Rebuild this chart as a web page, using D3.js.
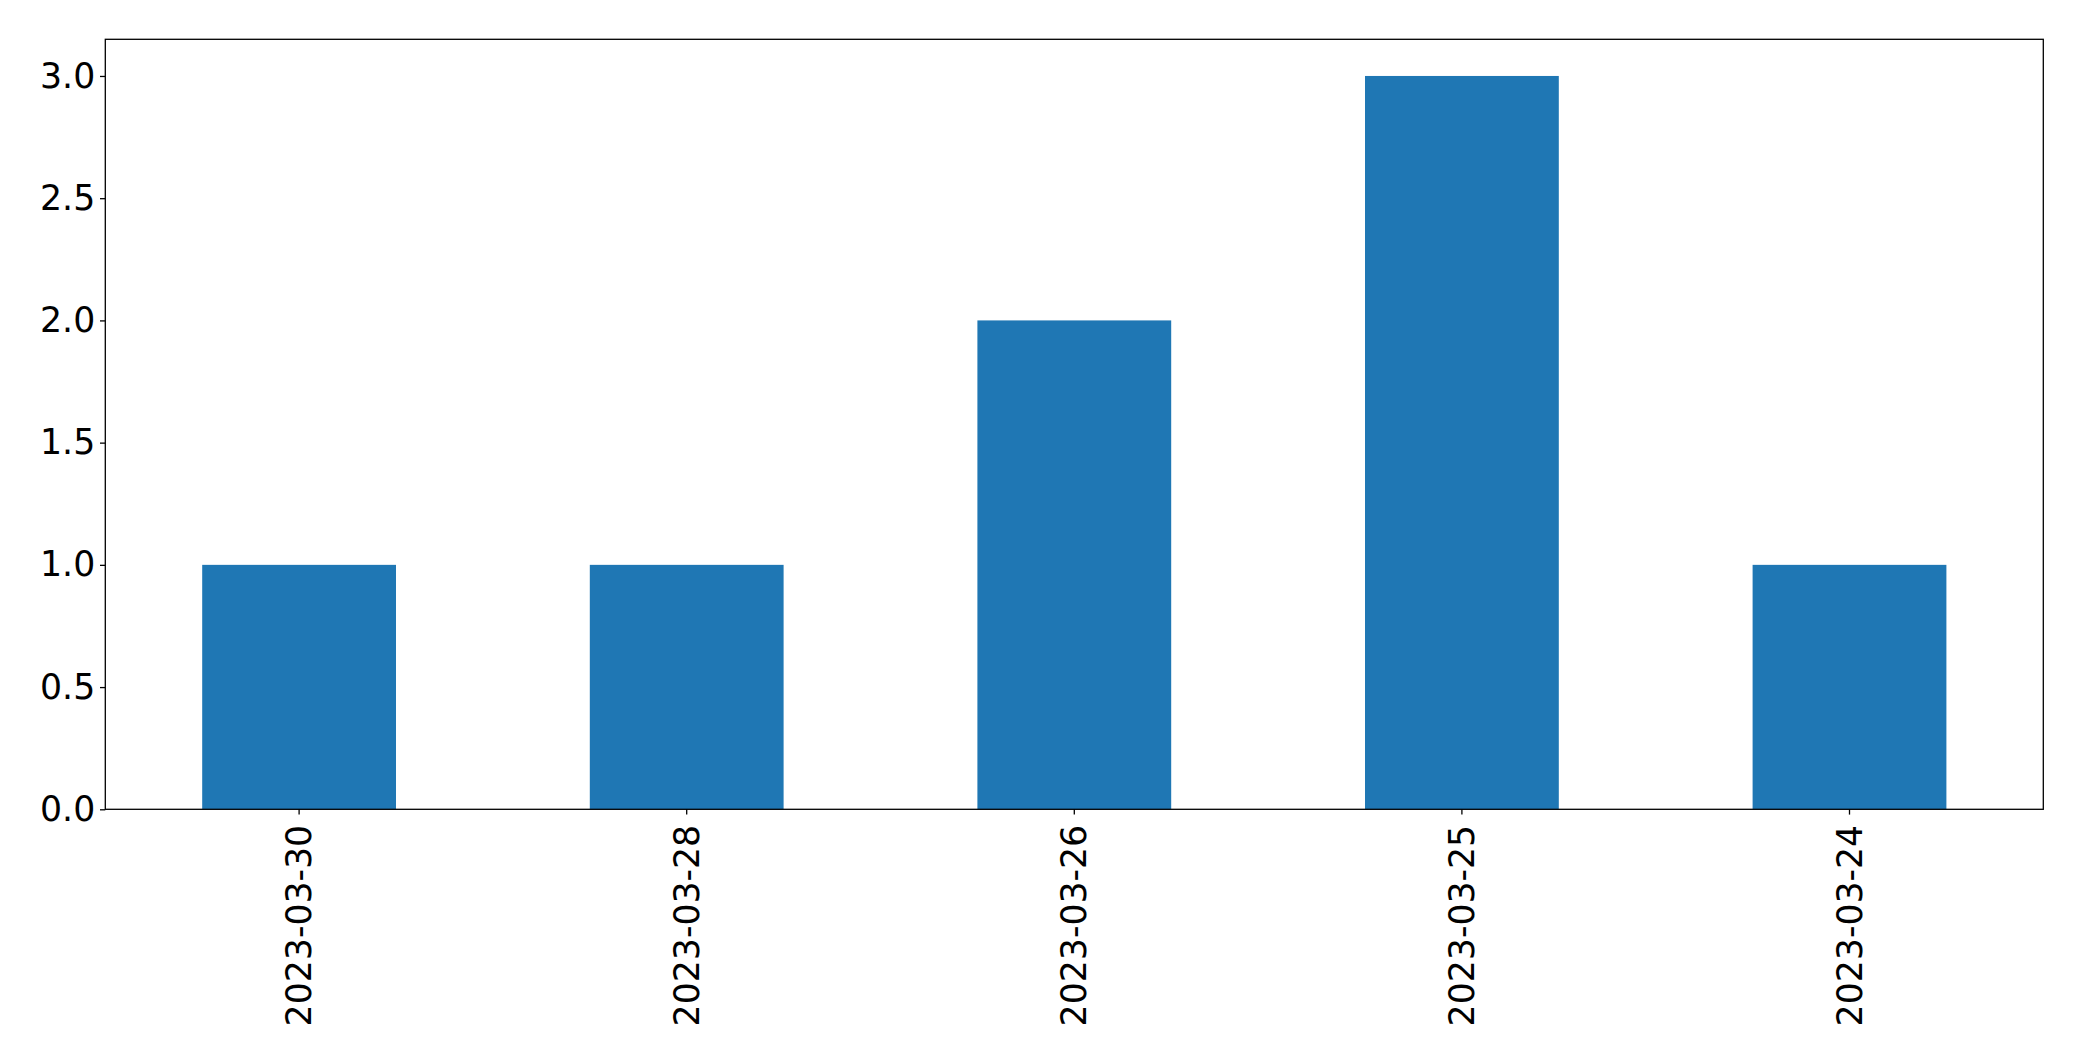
<!DOCTYPE html>
<html><head><meta charset="utf-8">
<script src="https://cdn.jsdelivr.net/npm/d3@7"></script>
<style>body{margin:0;background:#fff}svg{display:block}</style>
</head><body>
<svg id="c" width="2082" height="1061"></svg>
<script>
const categories = ["2023-03-30","2023-03-28","2023-03-26","2023-03-25","2023-03-24"];
const values = [1, 1, 2, 3, 1];
const yTicks = [0, 0.5, 1.0, 1.5, 2.0, 2.5, 3.0];

const W = 2082, H = 1061;
const m = {left: 105.3, top: 39.3, right: 2082 - 2043.3, bottom: 1061 - 809.3};
const svg = d3.select("#c");
const font = "DejaVu Sans, sans-serif";

const x = d3.scaleBand().domain(categories).range([m.left, W - m.right]).paddingInner(0.5).paddingOuter(0.25);
const y = d3.scaleLinear().domain([0, 3.15]).range([H - m.bottom, m.top]);

svg.append("g").selectAll("rect").data(values).join("rect")
  .attr("x", (d,i) => x(categories[i]))
  .attr("width", x.bandwidth())
  .attr("y", d => y(d))
  .attr("height", d => y(0) - y(d))
  .attr("fill", "#1f77b4");

const yAxis = svg.append("g").attr("transform", `translate(${m.left},0)`)
  .call(d3.axisLeft(y).tickValues(yTicks).tickFormat(d3.format(".1f")).tickSize(5.3).tickPadding(4.8));
const xAxis = svg.append("g").attr("transform", `translate(0,${H - m.bottom})`)
  .call(d3.axisBottom(x).tickSize(5.3).tickPadding(8));

[yAxis, xAxis].forEach(a => {
  a.select(".domain").remove();
  a.selectAll("line").attr("stroke", "#000").attr("stroke-width", 1.3);
  a.selectAll("text").attr("font-family", font).attr("font-size", 34.7).attr("fill", "#000");
});
xAxis.selectAll("text")
  .attr("transform", "rotate(-90)")
  .attr("text-anchor", "end")
  .attr("x", -15.5)
  .attr("y", 0)
  .attr("dy", "0.35em");

svg.append("rect")
  .attr("x", m.left).attr("y", m.top)
  .attr("width", W - m.left - m.right).attr("height", H - m.top - m.bottom)
  .attr("fill", "none").attr("stroke", "#000").attr("stroke-width", 1.3);
</script>
</body></html>
